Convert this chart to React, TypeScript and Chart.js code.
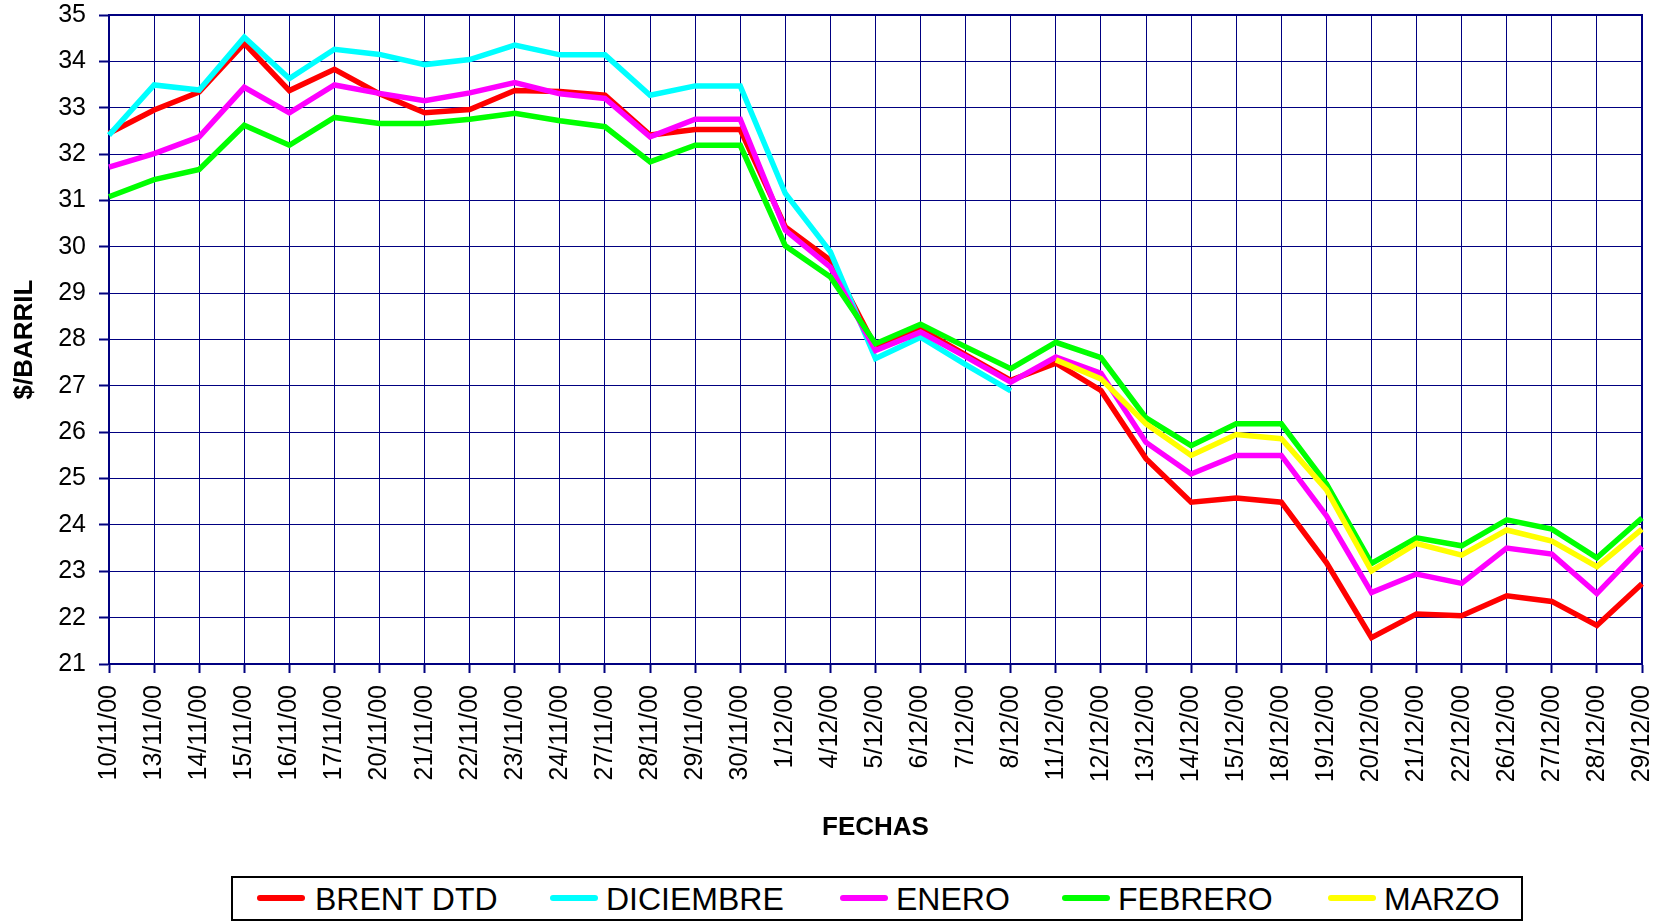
import React, { useEffect, useRef } from "react";
import { Chart, registerables } from "chart.js";

Chart.register(...registerables);

const fechas = ["10/11/00","13/11/00","14/11/00","15/11/00","16/11/00","17/11/00","20/11/00","21/11/00","22/11/00","23/11/00","24/11/00","27/11/00","28/11/00","29/11/00","30/11/00","1/12/00","4/12/00","5/12/00","6/12/00","7/12/00","8/12/00","11/12/00","12/12/00","13/12/00","14/12/00","15/12/00","18/12/00","19/12/00","20/12/00","21/12/00","22/12/00","26/12/00","27/12/00","28/12/00","29/12/00"];

const brentDtd = [32.45,32.95,33.34,34.39,33.37,33.83,33.3,32.89,32.96,33.37,33.35,33.27,32.41,32.53,32.53,30.43,29.71,27.84,28.23,27.67,27.12,27.49,26.9,25.43,24.49,24.58,24.49,23.19,21.57,22.08,22.04,22.47,22.35,21.83,22.73];
const diciembre = [32.41,33.49,33.38,34.52,33.63,34.26,34.15,33.93,34.04,34.35,34.14,34.14,33.27,33.47,33.47,31.15,29.89,27.59,28.05,27.46,26.89,null,null,null,null,null,null,null,null,null,null,null,null,null,null];
const enero = [31.72,32.01,32.37,33.44,32.89,33.49,33.31,33.15,33.32,33.54,33.3,33.2,32.37,32.75,32.75,30.36,29.56,27.76,28.16,27.63,27.08,27.62,27.27,25.78,25.1,25.5,25.5,24.2,22.54,22.94,22.74,23.5,23.37,22.52,23.53];
const febrero = [31.08,31.45,31.67,32.62,32.19,32.79,32.66,32.66,32.75,32.88,32.72,32.59,31.83,32.19,32.19,30.02,29.35,27.91,28.33,27.84,27.37,27.94,27.61,26.31,25.71,26.18,26.18,24.89,23.17,23.72,23.55,24.11,23.91,23.29,24.15];
const marzo = [null,null,null,null,null,null,null,null,null,null,null,null,null,null,null,null,null,null,null,null,null,27.56,27.15,26.18,25.5,25.95,25.86,24.76,23.01,23.6,23.35,23.89,23.65,23.1,23.91];

const seriesNames = ["BRENT DTD", "DICIEMBRE", "ENERO", "FEBRERO", "MARZO"];
const seriesColors = ["#FF0000", "#00FFFF", "#FF00FF", "#00FF00", "#FFFF00"];
const seriesData = [brentDtd, diciembre, enero, febrero, marzo];

const NAVY = "#000080";
const FONT = "'Liberation Sans', Arial, sans-serif";

const framePlugin = {
  id: "frame",
  beforeDatasetsDraw(chart: any) {
    const { ctx, chartArea } = chart;
    ctx.save();
    ctx.strokeStyle = NAVY;
    ctx.lineWidth = 2;
    ctx.setLineDash([]);
    ctx.strokeRect(chartArea.left, chartArea.top, chartArea.right - chartArea.left, chartArea.bottom - chartArea.top);
    ctx.restore();
  },
};

const legendPos = [
  { sample: 257, text: 315 },
  { sample: 550, text: 606 },
  { sample: 840, text: 896 },
  { sample: 1062, text: 1118 },
  { sample: 1328, text: 1384 },
];

function zeroPad(scale: any) {
  scale.paddingLeft = 0;
  scale.paddingRight = 0;
  scale.paddingTop = 0;
  scale.paddingBottom = 0;
}

export default function App() {
  const canvasRef = useRef<HTMLCanvasElement | null>(null);

  useEffect(() => {
    const canvas = canvasRef.current;
    if (!canvas) return;
    const n = seriesData.length;
    const chart = new Chart(canvas, {
      type: "line",
      data: {
        labels: fechas,
        datasets: seriesData.map((d, i) => ({
          label: seriesNames[i],
          data: d,
          borderColor: seriesColors[i],
          backgroundColor: seriesColors[i],
          borderWidth: 5.5,
          pointRadius: 0,
          pointHoverRadius: 0,
          tension: 0,
          fill: false,
          spanGaps: false,
          order: n - i,
        })),
      },
      options: {
        responsive: false,
        animation: false,
        devicePixelRatio: 1,
        layout: { padding: { left: 0, top: 15, right: 21, bottom: 80 } },
        plugins: {
          legend: { display: false },
          tooltip: { enabled: false },
          title: { display: false },
        },
        scales: {
          x: {
            type: "category",
            offset: false,
            grid: {
              color: NAVY,
              lineWidth: 1,
              borderDash: [2, 1],
              tickLength: 9,
              tickColor: NAVY,
              tickBorderDash: [],
              tickWidth: 2,
              drawOnChartArea: true,
            },
            border: { display: true, color: NAVY, width: 2 },
            ticks: {
              autoSkip: false,
              minRotation: 90,
              maxRotation: 90,
              padding: 12,
              color: "#000",
              font: { family: FONT, size: 25 },
            },
            title: {
              display: true,
              text: "FECHAS",
              color: "#000",
              font: { family: FONT, size: 26, weight: "bold" },
              padding: { top: 0, bottom: 0 },
            },
            afterFit(scale: any) {
              scale.height = 179;
              zeroPad(scale);
            },
          },
          y: {
            min: 21,
            max: 35,
            grid: {
              color: NAVY,
              lineWidth: 1,
              borderDash: [2, 1],
              tickLength: 10,
              tickColor: NAVY,
              tickBorderDash: [],
              tickWidth: 2,
            },
            border: { display: true, color: NAVY, width: 2 },
            ticks: {
              stepSize: 1,
              padding: 13,
              color: "#000",
              font: { family: FONT, size: 25 },
            },
            title: {
              display: true,
              text: "$/BARRIL",
              color: "#000",
              font: { family: FONT, size: 26, weight: "bold" },
              padding: { top: 9, bottom: 0 },
            },
            afterFit(scale: any) {
              scale.width = 109;
              zeroPad(scale);
            },
          },
        },
      },
      plugins: [framePlugin],
    } as any);
    return () => chart.destroy();
  }, []);

  return (
    <div style={{ position: "absolute", left: 0, top: 0, width: 1663, height: 923, background: "#fff", overflow: "hidden" }}>
      <canvas ref={canvasRef} width={1663} height={923} style={{ display: "block", width: 1663, height: 923 }} />
      <div
        style={{
          position: "absolute",
          left: 231,
          top: 876,
          width: 1292,
          height: 45,
          border: "2px solid #000",
          boxSizing: "border-box",
          background: "#fff",
        }}
      />
      {seriesNames.map((name, i) => (
        <React.Fragment key={name}>
          <div
            style={{
              position: "absolute",
              left: legendPos[i].sample,
              top: 895,
              width: 48,
              height: 6,
              borderRadius: 3,
              background: seriesColors[i],
            }}
          />
          <div
            style={{
              position: "absolute",
              left: legendPos[i].text,
              top: 879,
              height: 40,
              lineHeight: "40px",
              fontFamily: FONT,
              fontSize: 32,
              color: "#000",
              whiteSpace: "nowrap",
            }}
          >
            {name}
          </div>
        </React.Fragment>
      ))}
    </div>
  );
}
